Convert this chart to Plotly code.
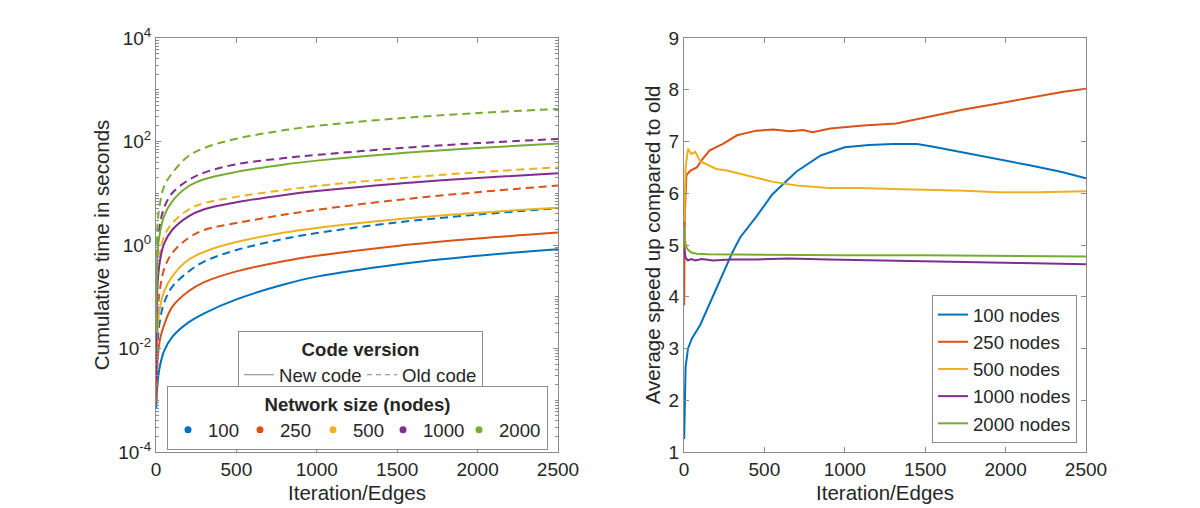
import plotly.graph_objects as go

COLORS = ["#0072BD", "#D95319", "#EDB120", "#7E2F8E", "#77AC30"]
SIZES = ["100", "250", "500", "1000", "2000"]

# cumulative time (seconds)
iters = [1, 10, 25, 50, 100, 200, 300, 500, 800, 1000, 1500, 2000, 2500]
new_100 = [0.00071, 0.0022, 0.0047, 0.0089, 0.0166, 0.0316, 0.0479, 0.0891, 0.174, 0.245, 0.422, 0.619, 0.832]
new_250 = [0.0010, 0.0063, 0.0150, 0.0282, 0.0631, 0.126, 0.191, 0.309, 0.489, 0.617, 0.959, 1.33, 1.74]
new_500 = [0.0040, 0.0251, 0.0631, 0.126, 0.245, 0.513, 0.741, 1.14, 1.74, 2.14, 3.15, 4.19, 5.25]
new_1000 = [0.0025, 0.178, 0.501, 1.05, 1.95, 3.55, 4.90, 6.67, 9.25, 11.0, 15.3, 19.7, 24.3]
new_2000 = [0.020, 0.708, 1.78, 3.63, 6.92, 13.5, 18.6, 25.9, 36.1, 42.7, 58.9, 75.0, 91.2]
old_100 = [0.00079, 0.0126, 0.0355, 0.0759, 0.155, 0.302, 0.479, 0.798, 1.32, 1.70, 2.73, 3.87, 5.13]
old_250 = [0.0025, 0.0501, 0.141, 0.339, 0.692, 1.35, 1.95, 2.65, 3.87, 4.79, 7.40, 10.5, 14.1]
old_500 = [0.010, 0.251, 0.708, 1.45, 2.63, 4.79, 6.46, 8.51, 11.6, 13.8, 19.4, 25.4, 31.6]
old_1000 = [0.0316, 1.0, 2.51, 5.25, 10.0, 17.8, 25.1, 36.3, 47.9, 55.0, 74.1, 93.1, 112.0]
old_2000 = [0.10, 2.63, 6.46, 13.5, 24.3, 52.0, 74.8, 113.0, 166.0, 200.0, 279.0, 354.0, 427.0]

log_ticks = [1e-4, 1e-2, 1, 1e2, 1e4]
log_labels = ["10<sup>-4</sup>", "10<sup>-2</sup>", "10<sup>0</sup>", "10<sup>2</sup>", "10<sup>4</sup>"]

# average speed up
x_100 = [1, 5, 10, 25, 50, 100, 160, 200, 300, 350, 450, 550, 700, 850, 1000, 1150, 1300, 1450,
         1550, 1750, 1950, 2150, 2350, 2500]
su_100 = [1.25, 2.3, 2.65, 3.0, 3.2, 3.45, 3.85, 4.15, 4.85, 5.15, 5.55, 5.98, 6.42, 6.73, 6.89,
          6.93, 6.95, 6.95, 6.90, 6.78, 6.67, 6.54, 6.41, 6.29]
x_250 = [1, 5, 15, 40, 80, 110, 160, 245, 330, 450, 555, 660, 740, 800, 910, 1115, 1320, 1490,
         1630, 1740, 1945, 2150, 2360, 2500]
su_250 = [3.83, 5.6, 6.35, 6.44, 6.5, 6.64, 6.83, 6.96, 7.12, 7.21, 7.23, 7.20, 7.22, 7.18, 7.25,
          7.31, 7.35, 7.46, 7.55, 7.62, 7.73, 7.85, 7.96, 8.02]
x_500 = [1, 10, 25, 45, 70, 100, 140, 200, 265, 350, 450, 555, 700, 900, 1100, 1300, 1500, 1750,
         1950, 2200, 2500]
su_500 = [5.45, 6.5, 6.86, 6.76, 6.8, 6.62, 6.56, 6.47, 6.44, 6.37, 6.30, 6.22, 6.15, 6.10, 6.10,
          6.08, 6.07, 6.05, 6.02, 6.02, 6.04]
x_1000 = [1, 10, 25, 45, 70, 110, 180, 290, 450, 650, 900, 1200, 1500, 1800, 2100, 2500]
su_1000 = [4.95, 4.75, 4.70, 4.73, 4.70, 4.73, 4.70, 4.72, 4.72, 4.74, 4.72, 4.70, 4.68, 4.66,
           4.65, 4.63]
x_2000 = [1, 5, 15, 30, 50, 80, 150, 500, 1000, 1500, 2000, 2500]
su_2000 = [5.35, 5.1, 4.95, 4.89, 4.85, 4.83, 4.82, 4.81, 4.80, 4.80, 4.79, 4.78]

FONT = "Liberation Sans, Arial, sans-serif"
TXT = "#262626"
AX = "#8c8c8c"

# the page puts the plot 8px in from the top-left corner
OFF = 8


def px(p):
    return (p - OFF) / 1200


def py(p):
    return (508 - (p - OFF)) / 508


fig = go.Figure()

new_runs = [new_100, new_250, new_500, new_1000, new_2000]
old_runs = [old_100, old_250, old_500, old_1000, old_2000]
for i in range(5):
    fig.add_trace(go.Scatter(x=iters, y=old_runs[i], mode="lines", showlegend=False,
                             line=dict(color=COLORS[i], width=2, dash="8px,5px", shape="spline",
                                       smoothing=1.0),
                             xaxis="x", yaxis="y"))
    fig.add_trace(go.Scatter(x=iters, y=new_runs[i], mode="lines", showlegend=False,
                             line=dict(color=COLORS[i], width=2, shape="spline", smoothing=1.0),
                             xaxis="x", yaxis="y"))

# legend entries for the left panel
fig.add_trace(go.Scatter(x=[None], y=[None], mode="lines", name="New code", legend="legend2",
                         legendwidth=78, line=dict(color="#7f7f7f", width=1),
                         xaxis="x", yaxis="y"))
fig.add_trace(go.Scatter(x=[None], y=[None], mode="lines", name="Old code", legend="legend2",
                         line=dict(color="#7f7f7f", width=1, dash="5px,4px"), xaxis="x", yaxis="y"))
item_w = [27, 28, 25, 31, 43]
for i in range(5):
    fig.add_trace(go.Scatter(x=[None], y=[None], mode="markers", name=SIZES[i], legend="legend3",
                             legendwidth=item_w[i],
                             marker=dict(color=COLORS[i], size=7), xaxis="x", yaxis="y"))

xs = [x_100, x_250, x_500, x_1000, x_2000]
ys = [su_100, su_250, su_500, su_1000, su_2000]
for i in range(5):
    fig.add_trace(go.Scatter(x=xs[i], y=ys[i], mode="lines", name=SIZES[i] + " nodes",
                             legend="legend", line=dict(color=COLORS[i], width=2),
                             xaxis="x2", yaxis="y2"))

axis_common = dict(showline=True, mirror="ticks", linecolor=AX, linewidth=1, ticks="inside",
                   ticklen=5, tickcolor=AX, showgrid=False, zeroline=False, automargin=False,
                   tickfont=dict(family=FONT, size=19, color=TXT),
                   title_font=dict(family=FONT, size=20.5, color=TXT))

legend_font = dict(family=FONT, size=18.6, color=TXT)

fig.update_layout(
    width=1200, height=508, autosize=False,
    paper_bgcolor="white", plot_bgcolor="white",
    margin=dict(l=0, r=0, t=0, b=0),
    font=dict(family=FONT, color=TXT),
    xaxis=dict(domain=[px(156), px(558)], range=[0, 2500], tick0=0, dtick=500,
               title=dict(text="Iteration/Edges", standoff=6), anchor="y", **axis_common),
    yaxis=dict(domain=[py(452), py(38)], type="log", range=[-4, 4], tickvals=log_ticks,
               ticktext=log_labels,
               title=dict(text="Cumulative time in seconds", standoff=3), anchor="x",
               minor=dict(ticks="inside", ticklen=3, tickcolor=AX, dtick="D1"),
               **axis_common),
    xaxis2=dict(domain=[px(684), px(1086)], range=[0, 2500], tick0=0, dtick=500,
                title=dict(text="Iteration/Edges", standoff=6), anchor="y2", **axis_common),
    yaxis2=dict(domain=[py(452), py(38)], range=[1, 9], dtick=1,
                title=dict(text="Average speed up compared to old", standoff=2), anchor="x2",
                **axis_common),
    legend=dict(x=px(1077), y=py(443), xanchor="right", yanchor="bottom", bgcolor="white",
                bordercolor=AX, borderwidth=1, itemwidth=30, font=legend_font),
    legend2=dict(x=px(238), y=py(331), xanchor="left", yanchor="top", orientation="h",
                 bgcolor="white", bordercolor=AX, borderwidth=1, itemwidth=30,
                 title=dict(text="<b>Code version</b>", side="top center", font=legend_font),
                 font=legend_font),
    legend3=dict(x=px(167), y=py(386), xanchor="left", yanchor="top", orientation="h",
                 bgcolor="white", bordercolor=AX, borderwidth=1, itemwidth=30,
                 title=dict(text="<b>Network size (nodes)</b>", side="top center",
                            font=legend_font),
                 font=legend_font),
    shapes=[
        dict(type="line", xref="paper", yref="paper", x0=px(238), x1=px(482), y0=py(360),
             y1=py(360), line=dict(color=AX, width=1), layer="above"),
        dict(type="line", xref="paper", yref="paper", x0=px(167), x1=px(546), y0=py(416),
             y1=py(416), line=dict(color=AX, width=1), layer="above"),
    ],
)

fig.write_html("out.html")
